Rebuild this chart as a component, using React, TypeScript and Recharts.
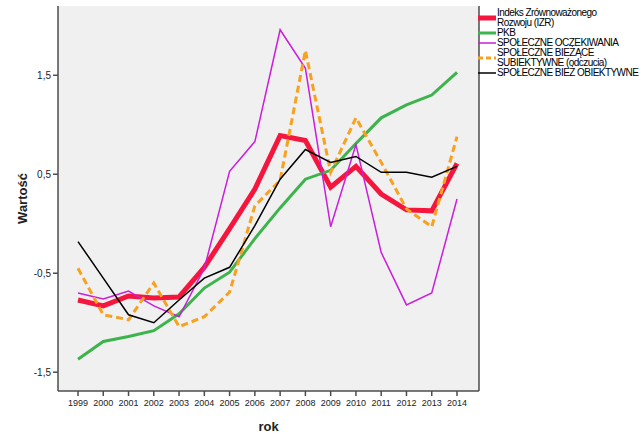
import { LineChart, Line, XAxis, YAxis, CartesianGrid, Legend } from "recharts"

const years = ["1999", "2000", "2001", "2002", "2003", "2004", "2005", "2006", "2007", "2008", "2009", "2010", "2011", "2012", "2013", "2014"]

const izr = [-0.77, -0.83, -0.73, -0.75, -0.74, -0.44, -0.05, 0.35, 0.89, 0.84, 0.37, 0.58, 0.3, 0.14, 0.13, 0.61]
const pkb = [-1.37, -1.19, -1.14, -1.08, -0.91, -0.65, -0.49, -0.15, 0.16, 0.45, 0.54, 0.81, 1.07, 1.2, 1.3, 1.53]
const oczekiwania = [-0.7, -0.76, -0.68, -0.83, -0.94, -0.45, 0.53, 0.83, 1.96, 1.57, -0.03, 0.8, -0.29, -0.82, -0.7, 0.25]
const subiektywne = [-0.45, -0.92, -0.97, -0.6, -1.04, -0.94, -0.69, 0.18, 0.44, 1.75, 0.52, 1.07, 0.62, 0.15, -0.03, 0.88]
const obiektywne = [-0.18, -0.55, -0.92, -1.0, -0.77, -0.55, -0.44, -0.02, 0.45, 0.75, 0.62, 0.68, 0.52, 0.52, 0.47, 0.58]

const yTicks = [-1.5, -0.5, 0.5, 1.5]

const data = years.map((rok, i) => ({
  rok,
  izr: izr[i],
  pkb: pkb[i],
  oczekiwania: oczekiwania[i],
  subiektywne: subiektywne[i],
  obiektywne: obiektywne[i],
}))

const FONT = "'Liberation Sans', Arial, sans-serif"

const legendItems = [
  { label: ["Indeks Zrównoważonego", "Rozwoju (IZR)"], color: "#f5163e", width: 5, dash: undefined },
  { label: ["PKB"], color: "#3cb44b", width: 3, dash: undefined },
  { label: ["SPOŁECZNE OCZEKIWANIA"], color: "#cc1ddb", width: 1.5, dash: undefined },
  { label: ["SPOŁECZNE BIEŻĄCE", "SUBIEKTYWNE (odczucia)"], color: "#f7a11e", width: 3, dash: "5 3" },
  { label: ["SPOŁECZNE BIEŻ OBIEKTYWNE"], color: "#000000", width: 1.5, dash: undefined },
]

const CustomLegend = () => (
  <div style={{ fontFamily: FONT, fontSize: 10, lineHeight: "10px", letterSpacing: -0.55, color: "#000", whiteSpace: "nowrap", textAlign: "left" }}>
    {legendItems.map((item, i) => (
      <div key={i} style={{ display: "flex", alignItems: "center" }}>
        <svg width={18} height={10} style={{ flex: "none" }}>
          <line x1={0} y1={5} x2={18} y2={5} stroke={item.color} strokeWidth={item.width} strokeDasharray={item.dash} />
        </svg>
        <div style={{ marginLeft: 1 }}>
          {item.label.map((l, j) => (
            <div key={j}>{l}</div>
          ))}
        </div>
      </div>
    ))}
  </div>
)

const YLabel = ({ viewBox }: any) => {
  const cy = viewBox.y + viewBox.height / 2
  return (
    <text
      x={22}
      y={cy}
      transform={`rotate(-90, 22, ${cy})`}
      textAnchor="middle"
      dominantBaseline="central"
      fontSize={13}
      fontWeight={700}
      fill="#222"
      fontFamily={FONT}
    >
      Wartość
    </text>
  )
}

export default function App() {
  return (
    <div style={{ position: "absolute", left: 0, top: 0, width: 640, height: 443, background: "#fff", overflow: "hidden" }}>
      <LineChart width={640} height={443} data={data} margin={{ top: 6, right: 160, bottom: 0, left: 0 }}>
        <CartesianGrid fill="#f0f0f0" horizontal={false} vertical={false} />
        <XAxis
          dataKey="rok"
          height={52}
          padding={{ left: 20, right: 22 }}
          interval={0}
          stroke="#4d4d4d"
          strokeWidth={1.5}
          tickSize={5}
          tickMargin={4}
          tick={{ fontSize: 9, fill: "#222", fontFamily: FONT }}
          label={{ value: "rok", position: "insideBottom", offset: 12, fontSize: 13, fontWeight: 700, fill: "#222", fontFamily: FONT }}
        />
        <XAxis xAxisId="top" orientation="top" dataKey="rok" height={0} tick={false} tickLine={false} stroke="#4d4d4d" strokeWidth={1.5} />
        <YAxis
          width={58}
          domain={[-1.69, 2.2]}
          ticks={yTicks}
          allowDataOverflow
          stroke="#4d4d4d"
          strokeWidth={1.5}
          tickSize={5}
          tickFormatter={(v) => String(v).replace(".", ",")}
          tick={{ fontSize: 10, fill: "#222", fontFamily: FONT }}
          label={<YLabel />}
        />
        <YAxis yAxisId="right" orientation="right" width={1} domain={[0, 1]} tick={false} tickLine={false} stroke="#4d4d4d" strokeWidth={1.5} />
        <Legend
          content={<CustomLegend />}
          layout="horizontal"
          verticalAlign="middle"
          align="center"
          wrapperStyle={{ left: 478, top: 8, width: 162 }}
        />
        <Line dataKey="izr" stroke="#f5163e" strokeWidth={5} dot={false} isAnimationActive={false} />
        <Line dataKey="pkb" stroke="#3cb44b" strokeWidth={3} dot={false} isAnimationActive={false} />
        <Line dataKey="oczekiwania" stroke="#cc1ddb" strokeWidth={1.5} dot={false} isAnimationActive={false} />
        <Line dataKey="subiektywne" stroke="#f7a11e" strokeWidth={3} strokeDasharray="7 4" dot={false} isAnimationActive={false} />
        <Line dataKey="obiektywne" stroke="#000000" strokeWidth={1.5} dot={false} isAnimationActive={false} />
      </LineChart>
    </div>
  )
}
